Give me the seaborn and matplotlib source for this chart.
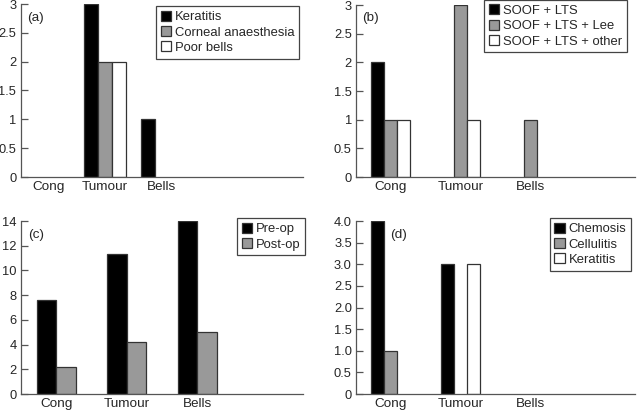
import matplotlib
matplotlib.use("Agg")
import matplotlib.pyplot as plt
import seaborn as sns
import pandas as pd

sns.set_style("white")
plt.rcParams["font.family"] = ["Liberation Sans", "DejaVu Sans"]

# ---- data ----
cats_a = ["Cong", "Tumour", "Bells", "", " "]
series_a = ["Keratitis", "Corneal anaesthesia", "Poor bells"]
vals_a = {"Keratitis": [0, 3, 1], "Corneal anaesthesia": [0, 2, 0], "Poor bells": [0, 2, 0]}

cats_b = ["Cong", "Tumour", "Bells", ""]
series_b = ["SOOF + LTS", "SOOF + LTS + Lee", "SOOF + LTS + other"]
vals_b = {"SOOF + LTS": [2, 0, 0], "SOOF + LTS + Lee": [1, 3, 1], "SOOF + LTS + other": [1, 1, 0]}

cats_c = ["Cong", "Tumour", "Bells", ""]
series_c = ["Pre-op", "Post-op"]
vals_c = {"Pre-op": [7.6, 11.3, 14.0], "Post-op": [2.2, 4.2, 5.0]}

cats_d = ["Cong", "Tumour", "Bells", ""]
series_d = ["Chemosis", "Cellulitis", "Keratitis"]
vals_d = {"Chemosis": [4, 3, 0], "Cellulitis": [1, 0, 0], "Keratitis": [0, 3, 0]}

yticks_a = [0, 0.5, 1, 1.5, 2, 2.5, 3]
ylabels_a = ["0", "0.5", "1", "1.5", "2", "2.5", "3"]
yticks_c = [0, 2, 4, 6, 8, 10, 12, 14]
ylabels_c = ["0", "2", "4", "6", "8", "10", "12", "14"]
yticks_d = [0, 0.5, 1, 1.5, 2, 2.5, 3, 3.5, 4]
ylabels_d = ["0", "0.5", "1.0", "1.5", "2.0", "2.5", "3.0", "3.5", "4.0"]

BLACK, GREY, WHITE = "#000000", "#999999", "#ffffff"
EDGE = "#333333"
SPINE = "#555555"

W, H = 640, 411
fig = plt.figure(figsize=(W / 100, H / 100), dpi=100)


def px_axes(x0, x1, ytop, ybot):
    return fig.add_axes([x0 / W, 1 - ybot / H, (x1 - x0) / W, (ybot - ytop) / H])


def panel(ax, cats, series, vals, colors, width, ylim, yt, yl, label, label_xy, leg_xy):
    real = [c for c in cats if c.strip()]
    rows = []
    for s in series:
        for c, v in zip(real, vals[s]):
            if v > 0:
                rows.append({"cat": c, "series": s, "val": v})
    df = pd.DataFrame(rows)
    sns.barplot(data=df, x="cat", y="val", hue="series", order=cats, hue_order=series,
                palette=dict(zip(series, colors)), width=width, gap=0, errorbar=None,
                edgecolor=EDGE, linewidth=0.9, saturation=1, ax=ax)
    n = len(cats)
    ax.set_xlim(-0.5, n - 0.5)
    ax.set_ylim(*ylim)
    ax.set_xlabel("")
    ax.set_ylabel("")
    # boundary ticks (major), labels at centers (minor)
    ax.set_xticks([i + 0.5 for i in range(n)])
    ax.set_xticklabels([""] * n)
    ax.set_xticks(list(range(len(real))), minor=True)
    ax.set_xticklabels(real, minor=True, fontsize=9.7)
    ax.tick_params(axis="x", which="major", direction="in", length=8, width=0.9, color=SPINE)
    ax.tick_params(axis="x", which="minor", length=0, pad=3)
    ax.set_yticks(yt)
    ax.set_yticklabels(yl, fontsize=9.3)
    ax.tick_params(axis="y", direction="in", length=5, width=0.9, color=SPINE, pad=3, left=True)
    for side in ["top", "right"]:
        ax.spines[side].set_visible(False)
    for side in ["left", "bottom"]:
        ax.spines[side].set_color(SPINE)
        ax.spines[side].set_linewidth(0.9)
    ax.text(label_xy[0], label_xy[1], label, transform=ax.transAxes, fontsize=9.7,
            ha="left", va="center")
    handles, labels = ax.get_legend_handles_labels()
    leg = ax.legend(handles, labels, loc="upper left", bbox_to_anchor=leg_xy, fontsize=9.4,
                    frameon=True, fancybox=False, edgecolor="#444444", framealpha=1,
                    handlelength=0.8, handleheight=0.8, handletextpad=0.3,
                    labelspacing=0.22, borderpad=0.35, borderaxespad=0)
    leg.get_frame().set_linewidth(0.9)
    for h in leg.legend_handles:
        h.set_edgecolor(EDGE)
        h.set_linewidth(0.9)


ax_a = px_axes(20.5, 303, 4, 177)
panel(ax_a, cats_a, series_a, vals_a, [BLACK, GREY, WHITE], 0.75, (0, 3),
      yticks_a, ylabels_a, "(a)", (0.025, 0.92), (0.48, 0.988))

ax_b = px_axes(356, 635, 5, 177)
panel(ax_b, cats_b, series_b, vals_b, [BLACK, GREY, WHITE], 0.56, (0, 3),
      yticks_a, ylabels_a, "(b)", (0.022, 0.925), (0.459, 1.03))

ax_c = px_axes(21, 303, 221, 394)
panel(ax_c, cats_c, series_c, vals_c, [BLACK, GREY], 0.55, (0, 14),
      yticks_c, ylabels_c, "(c)", (0.025, 0.92), (0.766, 1.017))

ax_d = px_axes(356, 635, 221, 394)
panel(ax_d, cats_d, series_d, vals_d, [BLACK, GREY, WHITE], 0.56, (0, 4),
      yticks_d, ylabels_d, "(d)", (0.122, 0.92), (0.695, 1.017))

fig.savefig("out.png", dpi=100)
